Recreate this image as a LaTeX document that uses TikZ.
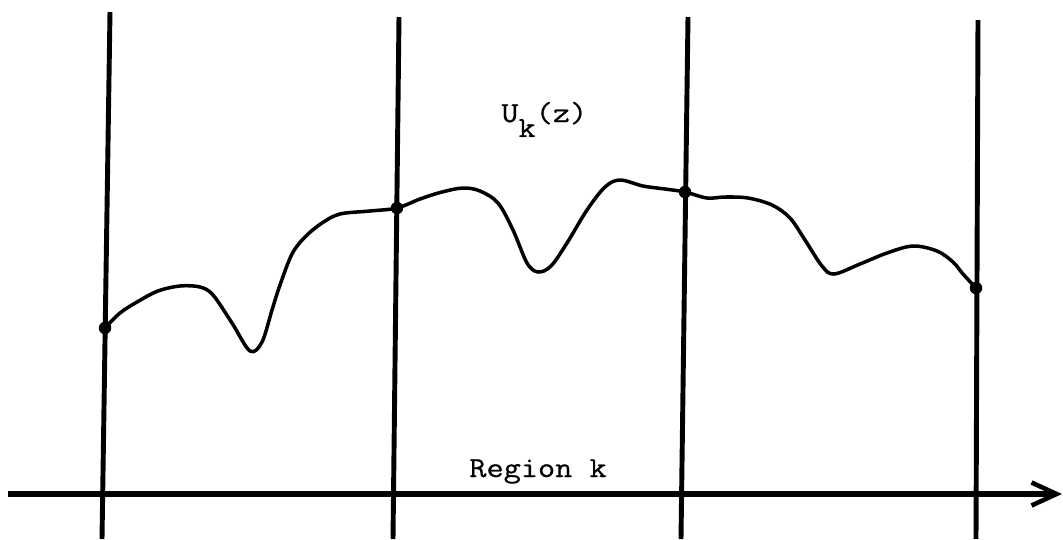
\documentclass[tikz,border=0pt]{standalone}
\usepackage{fontspec}
\newfontfamily\typewriter[FakeBold=0.6]{lmmono12-regular.otf}
\usetikzlibrary{arrows.meta}

\begin{document}
\begin{tikzpicture}[
  x=0.02cm, y=-0.02cm,
  wall/.style={line width=2.8pt},
  axis/.style={line width=3pt, -{Straight Barb[length=5mm, width=4.6mm, line width=2.6pt]}},
  potential/.style={line width=2pt, line join=round},
  dot/.style={circle, fill=black, inner sep=0pt, minimum size=0.25cm},
  lbl/.style={inner sep=0pt, font=\typewriter\fontsize{16.5}{19}\selectfont}
]
\useasboundingbox (0,0) rectangle (1063,539);

% region boundaries
\coordinate (t1) at (110,12);  \coordinate (b1) at (102,539);
\coordinate (t2) at (399,17);  \coordinate (b2) at (393,539);
\coordinate (t3) at (688,17);  \coordinate (b3) at (681,539);
\coordinate (t4) at (978,20);  \coordinate (b4) at (976,539);
\foreach \i in {1,...,4}
  \draw[wall] (t\i) -- (b\i);

% z axis
\coordinate (zstart) at (8,494);
\coordinate (zend) at (1062,494);
\draw[axis] (zstart) -- (zend);

% matching points
\coordinate (p1) at (105,328);
\coordinate (p2) at (397,208);
\coordinate (p3) at (685,192);
\coordinate (p4) at (976,288);

\draw[potential] plot[smooth, tension=0.55] coordinates {
  (p1) (120,313) (137,302) (158,291) (180,286) (200,287) (213,295)
  (232,323) (250,351) (262,342) (272,310) (280,285) (292,254) (305,237)
  (322,223) (340,214) (370,211) (p2) (420,199) (442,192) (463,188)
  (480,191) (498,203) (513,230) (527,263) (538,272) (551,266) (567,243)
  (587,210) (605,187) (620,180) (643,186) (665,189) (p3) (707,198)
  (725,197) (748,198) (772,205) (790,218) (805,240) (822,266) (834,274)
  (860,264) (887,253) (913,246) (937,251) (953,262) (963,274) (p4)};

\foreach \i in {1,...,4}
  \node[dot] (d\i) at (p\i) {};

\node[lbl, anchor=base west] (ufield) at (501,122) {\scalebox{1.15}[1]{U\raisebox{-8.5pt}{k}(z)}};
\node[lbl, anchor=base west] (region) at (469,477) {\scalebox{1.15}[1]{Region k}};
\end{tikzpicture}
\end{document}
